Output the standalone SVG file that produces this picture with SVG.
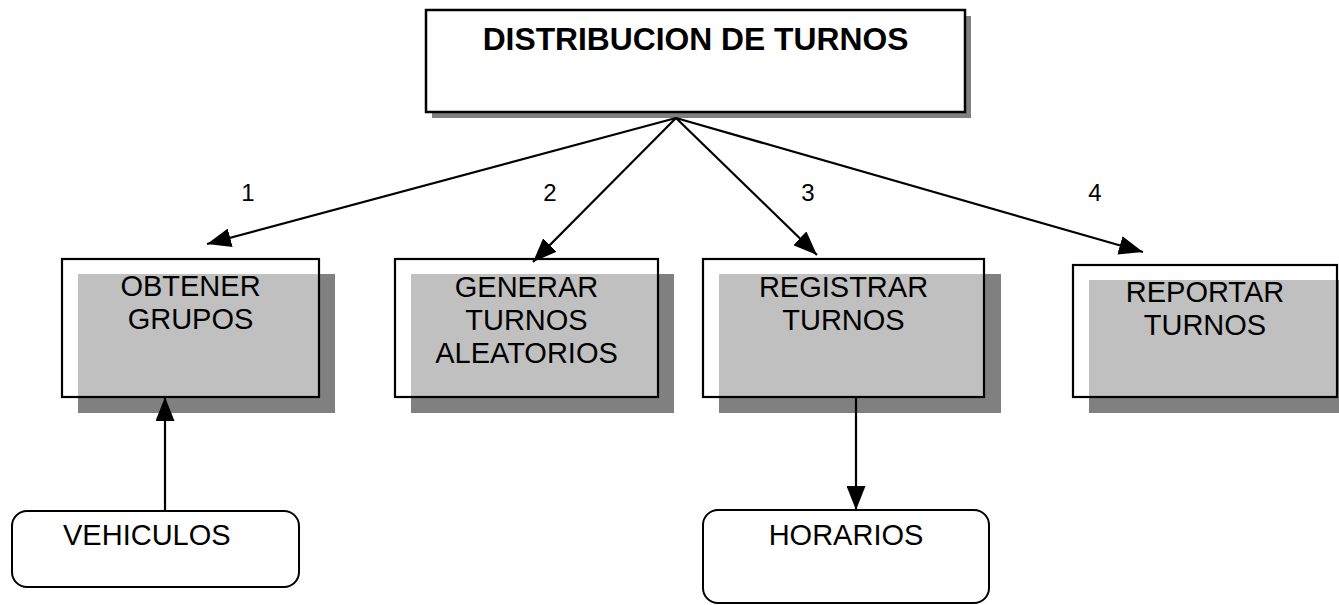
<svg xmlns="http://www.w3.org/2000/svg" width="1339" height="605" viewBox="0 0 1339 605">
<defs>
<style>
.shadow{fill:#808080}
.topbox{fill:#fff;stroke:#000;stroke-width:2.5}
.box{fill:#fff;fill-opacity:0.5;stroke:#000;stroke-width:2.2}
.rbox{fill:#fff;stroke:#000;stroke-width:2}
.t{font-family:"Liberation Sans",Arial,sans-serif;font-size:29px;fill:#000;text-anchor:middle}
.title{font-family:"Liberation Sans",Arial,sans-serif;font-size:31.8px;font-weight:bold;fill:#000;text-anchor:middle}
.lbl{font-family:"Liberation Sans",Arial,sans-serif;font-size:24px;fill:#000;text-anchor:middle}
.conn{stroke:#000;stroke-width:2.2;fill:none;marker-end:url(#ah)}
</style>
<marker id="ah" markerUnits="userSpaceOnUse" markerWidth="24" markerHeight="19" refX="24" refY="9.5" orient="auto">
<path d="M0,0 L24,9.5 L0,19 z" fill="#000"/>
</marker>
</defs>
<rect width="1339" height="605" fill="#fff"/>

<g id="distribucion">
<rect class="shadow" x="432" y="16" width="539" height="102"/>
<rect class="topbox" x="426" y="10" width="539" height="102"/>
<text class="title" x="695.5" y="50">DISTRIBUCION DE TURNOS</text>
</g>

<g id="obtener">
<rect class="shadow" x="78" y="274" width="257" height="139"/>
<rect class="box" x="62" y="259" width="257" height="138"/>
<text class="t" x="190.5" y="296">OBTENER</text>
<text class="t" x="190.5" y="329">GRUPOS</text>
</g>

<g id="generar">
<rect class="shadow" x="411" y="274" width="263" height="139"/>
<rect class="box" x="395" y="259" width="263" height="138"/>
<text class="t" x="526.5" y="297">GENERAR</text>
<text class="t" x="526.5" y="330">TURNOS</text>
<text class="t" x="526.5" y="363">ALEATORIOS</text>
</g>

<g id="registrar">
<rect class="shadow" x="719" y="274" width="282" height="139"/>
<rect class="box" x="703" y="259" width="281" height="138"/>
<text class="t" x="843.5" y="297">REGISTRAR</text>
<text class="t" x="843.5" y="330">TURNOS</text>
</g>

<g id="reportar">
<rect class="shadow" x="1089" y="280" width="264" height="133"/>
<rect class="box" x="1073" y="265" width="264" height="132"/>
<text class="t" x="1205" y="302">REPORTAR</text>
<text class="t" x="1205" y="335">TURNOS</text>
</g>

<g id="vehiculos">
<rect class="rbox" x="12" y="511" width="287" height="76" rx="15" ry="15"/>
<text class="t" x="63" y="545" style="text-anchor:start">VEHICULOS</text>
</g>

<g id="horarios">
<rect class="rbox" x="703" y="510" width="286" height="93" rx="15" ry="15"/>
<text class="t" x="846" y="545">HORARIOS</text>
</g>

<g id="connectors">
<line class="conn" x1="676" y1="118" x2="207" y2="244"/>
<line class="conn" x1="676" y1="118" x2="533" y2="262"/>
<line class="conn" x1="676" y1="118" x2="817" y2="255"/>
<line class="conn" x1="676" y1="118" x2="1143" y2="252"/>
<line class="conn" x1="165" y1="511" x2="165" y2="397"/>
<line class="conn" x1="856" y1="397" x2="856" y2="510"/>
<text class="lbl" x="248" y="201">1</text>
<text class="lbl" x="550" y="201">2</text>
<text class="lbl" x="808" y="201">3</text>
<text class="lbl" x="1095" y="201">4</text>
</g>
</svg>
